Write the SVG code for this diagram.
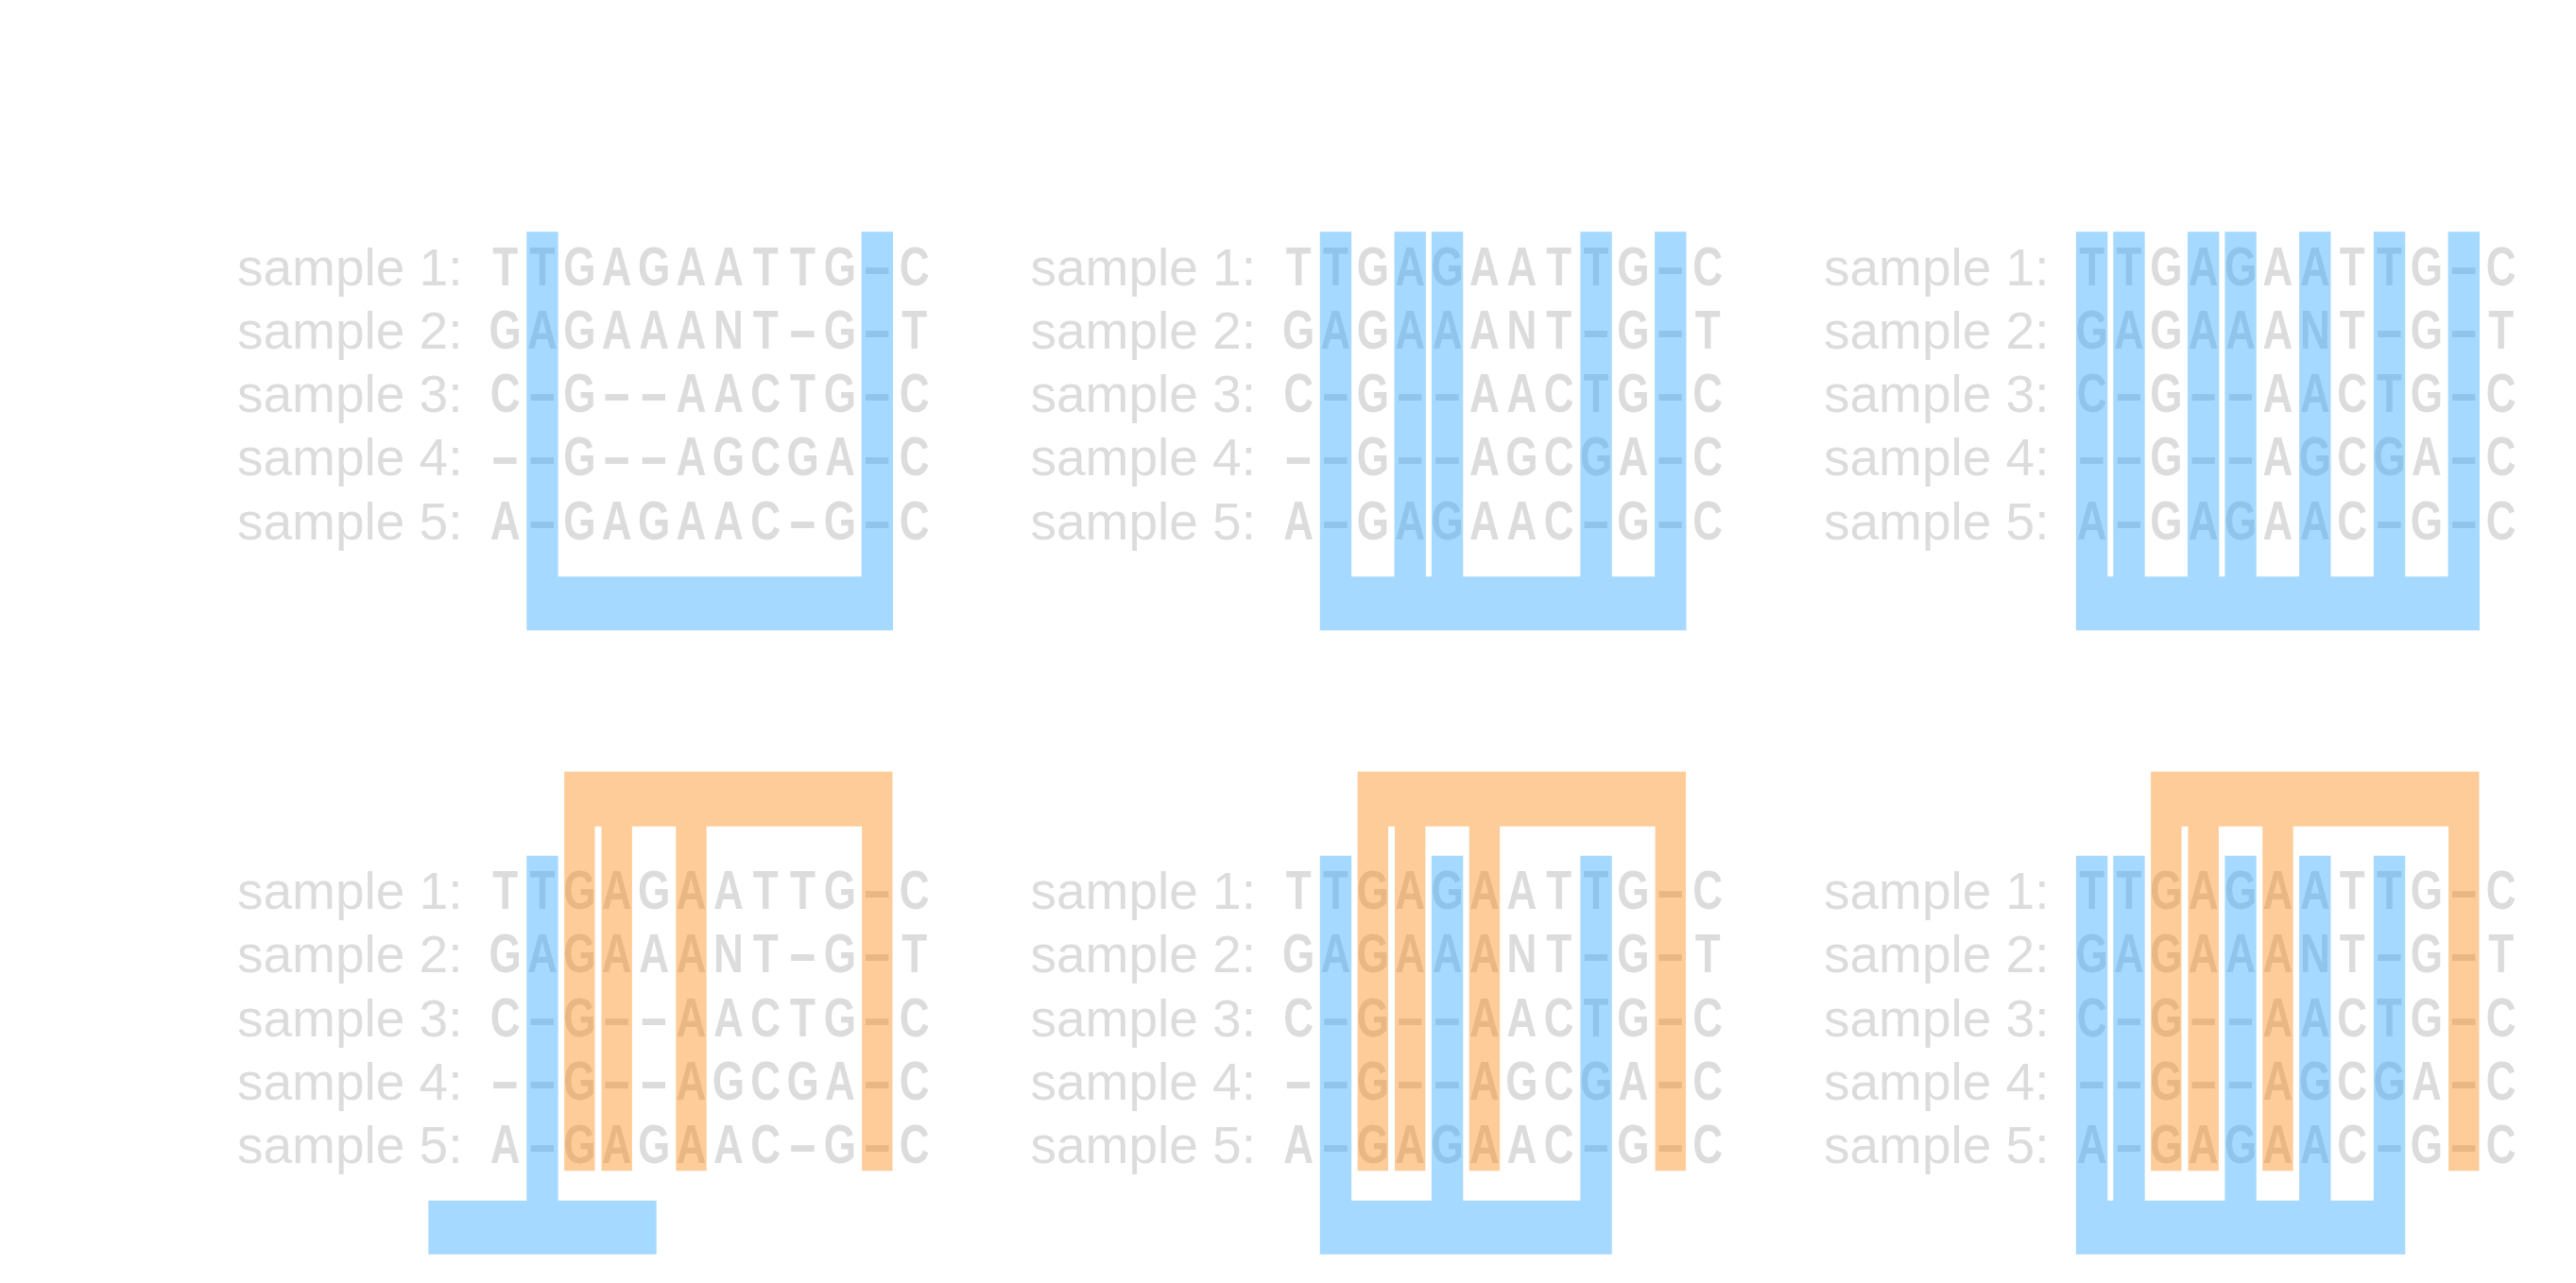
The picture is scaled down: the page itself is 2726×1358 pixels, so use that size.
<svg xmlns="http://www.w3.org/2000/svg" width="2726" height="1358" viewBox="0 0 2726 1358">
<style>
.l{font-family:"Liberation Sans",Arial,sans-serif;font-size:55px;fill:#dcdcdc}
.s{font-family:"Liberation Sans",Arial,sans-serif;font-size:58px;font-weight:bold;fill:#dcdcdc;text-anchor:middle}
.h{font-family:"Liberation Sans",Arial,sans-serif;font-size:58px;font-weight:bold;fill:#dcdcdc}
.b{fill:rgb(33,160,255);fill-opacity:0.4}
.o{fill:rgb(252,127,0);fill-opacity:0.4}
</style>
<rect width="2726" height="1358" fill="#ffffff"/>

<g id="panel-1">
<g id="p1-labels">
<text class="l" x="251" y="301.7">sample 1:</text>
<text class="l" x="251" y="368.95">sample 2:</text>
<text class="l" x="251" y="436.2">sample 3:</text>
<text class="l" x="251" y="503.45">sample 4:</text>
<text class="l" x="251" y="570.7">sample 5:</text>
</g>
<g id="p1-seq" transform="scale(0.76,1)">
<text class="s" x="703.42" y="301.7">T</text><text class="s" x="755.22" y="301.7">T</text><text class="s" x="807.03" y="301.7">G</text><text class="s" x="858.83" y="301.7">A</text><text class="s" x="910.63" y="301.7">G</text><text class="s" x="962.43" y="301.7">A</text><text class="s" x="1014.24" y="301.7">A</text><text class="s" x="1066.04" y="301.7">T</text><text class="s" x="1117.84" y="301.7">T</text><text class="s" x="1169.64" y="301.7">G</text><text class="h" x="1200.45" y="301.7" textLength="42" lengthAdjust="spacingAndGlyphs">-</text><text class="s" x="1273.25" y="301.7">C</text>
<text class="s" x="703.42" y="368.95">G</text><text class="s" x="755.22" y="368.95">A</text><text class="s" x="807.03" y="368.95">G</text><text class="s" x="858.83" y="368.95">A</text><text class="s" x="910.63" y="368.95">A</text><text class="s" x="962.43" y="368.95">A</text><text class="s" x="1014.24" y="368.95">N</text><text class="s" x="1066.04" y="368.95">T</text><text class="h" x="1096.84" y="368.95" textLength="42" lengthAdjust="spacingAndGlyphs">-</text><text class="s" x="1169.64" y="368.95">G</text><text class="h" x="1200.45" y="368.95" textLength="42" lengthAdjust="spacingAndGlyphs">-</text><text class="s" x="1273.25" y="368.95">T</text>
<text class="s" x="703.42" y="436.2">C</text><text class="h" x="734.22" y="436.2" textLength="42" lengthAdjust="spacingAndGlyphs">-</text><text class="s" x="807.03" y="436.2">G</text><text class="h" x="837.83" y="436.2" textLength="42" lengthAdjust="spacingAndGlyphs">-</text><text class="h" x="889.63" y="436.2" textLength="42" lengthAdjust="spacingAndGlyphs">-</text><text class="s" x="962.43" y="436.2">A</text><text class="s" x="1014.24" y="436.2">A</text><text class="s" x="1066.04" y="436.2">C</text><text class="s" x="1117.84" y="436.2">T</text><text class="s" x="1169.64" y="436.2">G</text><text class="h" x="1200.45" y="436.2" textLength="42" lengthAdjust="spacingAndGlyphs">-</text><text class="s" x="1273.25" y="436.2">C</text>
<text class="h" x="682.42" y="503.45" textLength="42" lengthAdjust="spacingAndGlyphs">-</text><text class="h" x="734.22" y="503.45" textLength="42" lengthAdjust="spacingAndGlyphs">-</text><text class="s" x="807.03" y="503.45">G</text><text class="h" x="837.83" y="503.45" textLength="42" lengthAdjust="spacingAndGlyphs">-</text><text class="h" x="889.63" y="503.45" textLength="42" lengthAdjust="spacingAndGlyphs">-</text><text class="s" x="962.43" y="503.45">A</text><text class="s" x="1014.24" y="503.45">G</text><text class="s" x="1066.04" y="503.45">C</text><text class="s" x="1117.84" y="503.45">G</text><text class="s" x="1169.64" y="503.45">A</text><text class="h" x="1200.45" y="503.45" textLength="42" lengthAdjust="spacingAndGlyphs">-</text><text class="s" x="1273.25" y="503.45">C</text>
<text class="s" x="703.42" y="570.7">A</text><text class="h" x="734.22" y="570.7" textLength="42" lengthAdjust="spacingAndGlyphs">-</text><text class="s" x="807.03" y="570.7">G</text><text class="s" x="858.83" y="570.7">A</text><text class="s" x="910.63" y="570.7">G</text><text class="s" x="962.43" y="570.7">A</text><text class="s" x="1014.24" y="570.7">A</text><text class="s" x="1066.04" y="570.7">C</text><text class="h" x="1096.84" y="570.7" textLength="42" lengthAdjust="spacingAndGlyphs">-</text><text class="s" x="1169.64" y="570.7">G</text><text class="h" x="1200.45" y="570.7" textLength="42" lengthAdjust="spacingAndGlyphs">-</text><text class="s" x="1273.25" y="570.7">C</text>
</g>
<path class="b" d="M557.27,245.3H590.67V611H557.27Z M911.6,245.3H945V611H911.6Z M557.27,610.3H945V667.3H557.27Z"/>
</g>

<g id="panel-2" transform="translate(839.5,0)">
<g id="p2-labels">
<text class="l" x="251" y="301.7">sample 1:</text>
<text class="l" x="251" y="368.95">sample 2:</text>
<text class="l" x="251" y="436.2">sample 3:</text>
<text class="l" x="251" y="503.45">sample 4:</text>
<text class="l" x="251" y="570.7">sample 5:</text>
</g>
<g id="p2-seq" transform="scale(0.76,1)">
<text class="s" x="703.42" y="301.7">T</text><text class="s" x="755.22" y="301.7">T</text><text class="s" x="807.03" y="301.7">G</text><text class="s" x="858.83" y="301.7">A</text><text class="s" x="910.63" y="301.7">G</text><text class="s" x="962.43" y="301.7">A</text><text class="s" x="1014.24" y="301.7">A</text><text class="s" x="1066.04" y="301.7">T</text><text class="s" x="1117.84" y="301.7">T</text><text class="s" x="1169.64" y="301.7">G</text><text class="h" x="1200.45" y="301.7" textLength="42" lengthAdjust="spacingAndGlyphs">-</text><text class="s" x="1273.25" y="301.7">C</text>
<text class="s" x="703.42" y="368.95">G</text><text class="s" x="755.22" y="368.95">A</text><text class="s" x="807.03" y="368.95">G</text><text class="s" x="858.83" y="368.95">A</text><text class="s" x="910.63" y="368.95">A</text><text class="s" x="962.43" y="368.95">A</text><text class="s" x="1014.24" y="368.95">N</text><text class="s" x="1066.04" y="368.95">T</text><text class="h" x="1096.84" y="368.95" textLength="42" lengthAdjust="spacingAndGlyphs">-</text><text class="s" x="1169.64" y="368.95">G</text><text class="h" x="1200.45" y="368.95" textLength="42" lengthAdjust="spacingAndGlyphs">-</text><text class="s" x="1273.25" y="368.95">T</text>
<text class="s" x="703.42" y="436.2">C</text><text class="h" x="734.22" y="436.2" textLength="42" lengthAdjust="spacingAndGlyphs">-</text><text class="s" x="807.03" y="436.2">G</text><text class="h" x="837.83" y="436.2" textLength="42" lengthAdjust="spacingAndGlyphs">-</text><text class="h" x="889.63" y="436.2" textLength="42" lengthAdjust="spacingAndGlyphs">-</text><text class="s" x="962.43" y="436.2">A</text><text class="s" x="1014.24" y="436.2">A</text><text class="s" x="1066.04" y="436.2">C</text><text class="s" x="1117.84" y="436.2">T</text><text class="s" x="1169.64" y="436.2">G</text><text class="h" x="1200.45" y="436.2" textLength="42" lengthAdjust="spacingAndGlyphs">-</text><text class="s" x="1273.25" y="436.2">C</text>
<text class="h" x="682.42" y="503.45" textLength="42" lengthAdjust="spacingAndGlyphs">-</text><text class="h" x="734.22" y="503.45" textLength="42" lengthAdjust="spacingAndGlyphs">-</text><text class="s" x="807.03" y="503.45">G</text><text class="h" x="837.83" y="503.45" textLength="42" lengthAdjust="spacingAndGlyphs">-</text><text class="h" x="889.63" y="503.45" textLength="42" lengthAdjust="spacingAndGlyphs">-</text><text class="s" x="962.43" y="503.45">A</text><text class="s" x="1014.24" y="503.45">G</text><text class="s" x="1066.04" y="503.45">C</text><text class="s" x="1117.84" y="503.45">G</text><text class="s" x="1169.64" y="503.45">A</text><text class="h" x="1200.45" y="503.45" textLength="42" lengthAdjust="spacingAndGlyphs">-</text><text class="s" x="1273.25" y="503.45">C</text>
<text class="s" x="703.42" y="570.7">A</text><text class="h" x="734.22" y="570.7" textLength="42" lengthAdjust="spacingAndGlyphs">-</text><text class="s" x="807.03" y="570.7">G</text><text class="s" x="858.83" y="570.7">A</text><text class="s" x="910.63" y="570.7">G</text><text class="s" x="962.43" y="570.7">A</text><text class="s" x="1014.24" y="570.7">A</text><text class="s" x="1066.04" y="570.7">C</text><text class="h" x="1096.84" y="570.7" textLength="42" lengthAdjust="spacingAndGlyphs">-</text><text class="s" x="1169.64" y="570.7">G</text><text class="h" x="1200.45" y="570.7" textLength="42" lengthAdjust="spacingAndGlyphs">-</text><text class="s" x="1273.25" y="570.7">C</text>
</g>
<path class="b" d="M557.27,245.3H590.67V611H557.27Z M636.01,245.3H669.41V611H636.01Z M675.38,245.3H708.78V611H675.38Z M832.86,245.3H866.26V611H832.86Z M911.6,245.3H945V611H911.6Z M557.27,610.3H945V667.3H557.27Z"/>
</g>

<g id="panel-3" transform="translate(1679,0)">
<g id="p3-labels">
<text class="l" x="251" y="301.7">sample 1:</text>
<text class="l" x="251" y="368.95">sample 2:</text>
<text class="l" x="251" y="436.2">sample 3:</text>
<text class="l" x="251" y="503.45">sample 4:</text>
<text class="l" x="251" y="570.7">sample 5:</text>
</g>
<g id="p3-seq" transform="scale(0.76,1)">
<text class="s" x="703.42" y="301.7">T</text><text class="s" x="755.22" y="301.7">T</text><text class="s" x="807.03" y="301.7">G</text><text class="s" x="858.83" y="301.7">A</text><text class="s" x="910.63" y="301.7">G</text><text class="s" x="962.43" y="301.7">A</text><text class="s" x="1014.24" y="301.7">A</text><text class="s" x="1066.04" y="301.7">T</text><text class="s" x="1117.84" y="301.7">T</text><text class="s" x="1169.64" y="301.7">G</text><text class="h" x="1200.45" y="301.7" textLength="42" lengthAdjust="spacingAndGlyphs">-</text><text class="s" x="1273.25" y="301.7">C</text>
<text class="s" x="703.42" y="368.95">G</text><text class="s" x="755.22" y="368.95">A</text><text class="s" x="807.03" y="368.95">G</text><text class="s" x="858.83" y="368.95">A</text><text class="s" x="910.63" y="368.95">A</text><text class="s" x="962.43" y="368.95">A</text><text class="s" x="1014.24" y="368.95">N</text><text class="s" x="1066.04" y="368.95">T</text><text class="h" x="1096.84" y="368.95" textLength="42" lengthAdjust="spacingAndGlyphs">-</text><text class="s" x="1169.64" y="368.95">G</text><text class="h" x="1200.45" y="368.95" textLength="42" lengthAdjust="spacingAndGlyphs">-</text><text class="s" x="1273.25" y="368.95">T</text>
<text class="s" x="703.42" y="436.2">C</text><text class="h" x="734.22" y="436.2" textLength="42" lengthAdjust="spacingAndGlyphs">-</text><text class="s" x="807.03" y="436.2">G</text><text class="h" x="837.83" y="436.2" textLength="42" lengthAdjust="spacingAndGlyphs">-</text><text class="h" x="889.63" y="436.2" textLength="42" lengthAdjust="spacingAndGlyphs">-</text><text class="s" x="962.43" y="436.2">A</text><text class="s" x="1014.24" y="436.2">A</text><text class="s" x="1066.04" y="436.2">C</text><text class="s" x="1117.84" y="436.2">T</text><text class="s" x="1169.64" y="436.2">G</text><text class="h" x="1200.45" y="436.2" textLength="42" lengthAdjust="spacingAndGlyphs">-</text><text class="s" x="1273.25" y="436.2">C</text>
<text class="h" x="682.42" y="503.45" textLength="42" lengthAdjust="spacingAndGlyphs">-</text><text class="h" x="734.22" y="503.45" textLength="42" lengthAdjust="spacingAndGlyphs">-</text><text class="s" x="807.03" y="503.45">G</text><text class="h" x="837.83" y="503.45" textLength="42" lengthAdjust="spacingAndGlyphs">-</text><text class="h" x="889.63" y="503.45" textLength="42" lengthAdjust="spacingAndGlyphs">-</text><text class="s" x="962.43" y="503.45">A</text><text class="s" x="1014.24" y="503.45">G</text><text class="s" x="1066.04" y="503.45">C</text><text class="s" x="1117.84" y="503.45">G</text><text class="s" x="1169.64" y="503.45">A</text><text class="h" x="1200.45" y="503.45" textLength="42" lengthAdjust="spacingAndGlyphs">-</text><text class="s" x="1273.25" y="503.45">C</text>
<text class="s" x="703.42" y="570.7">A</text><text class="h" x="734.22" y="570.7" textLength="42" lengthAdjust="spacingAndGlyphs">-</text><text class="s" x="807.03" y="570.7">G</text><text class="s" x="858.83" y="570.7">A</text><text class="s" x="910.63" y="570.7">G</text><text class="s" x="962.43" y="570.7">A</text><text class="s" x="1014.24" y="570.7">A</text><text class="s" x="1066.04" y="570.7">C</text><text class="h" x="1096.84" y="570.7" textLength="42" lengthAdjust="spacingAndGlyphs">-</text><text class="s" x="1169.64" y="570.7">G</text><text class="h" x="1200.45" y="570.7" textLength="42" lengthAdjust="spacingAndGlyphs">-</text><text class="s" x="1273.25" y="570.7">C</text>
</g>
<path class="b" d="M517.9,245.3H551.3V611H517.9Z M557.27,245.3H590.67V611H557.27Z M636.01,245.3H669.41V611H636.01Z M675.38,245.3H708.78V611H675.38Z M754.12,245.3H787.52V611H754.12Z M832.86,245.3H866.26V611H832.86Z M911.6,245.3H945V611H911.6Z M517.9,610.3H945V667.3H517.9Z"/>
</g>

<g id="panel-4" transform="translate(0,660.4)">
<g id="p4-labels">
<text class="l" x="251" y="301.7">sample 1:</text>
<text class="l" x="251" y="368.95">sample 2:</text>
<text class="l" x="251" y="436.2">sample 3:</text>
<text class="l" x="251" y="503.45">sample 4:</text>
<text class="l" x="251" y="570.7">sample 5:</text>
</g>
<g id="p4-seq" transform="scale(0.76,1)">
<text class="s" x="703.42" y="301.7">T</text><text class="s" x="755.22" y="301.7">T</text><text class="s" x="807.03" y="301.7">G</text><text class="s" x="858.83" y="301.7">A</text><text class="s" x="910.63" y="301.7">G</text><text class="s" x="962.43" y="301.7">A</text><text class="s" x="1014.24" y="301.7">A</text><text class="s" x="1066.04" y="301.7">T</text><text class="s" x="1117.84" y="301.7">T</text><text class="s" x="1169.64" y="301.7">G</text><text class="h" x="1200.45" y="301.7" textLength="42" lengthAdjust="spacingAndGlyphs">-</text><text class="s" x="1273.25" y="301.7">C</text>
<text class="s" x="703.42" y="368.95">G</text><text class="s" x="755.22" y="368.95">A</text><text class="s" x="807.03" y="368.95">G</text><text class="s" x="858.83" y="368.95">A</text><text class="s" x="910.63" y="368.95">A</text><text class="s" x="962.43" y="368.95">A</text><text class="s" x="1014.24" y="368.95">N</text><text class="s" x="1066.04" y="368.95">T</text><text class="h" x="1096.84" y="368.95" textLength="42" lengthAdjust="spacingAndGlyphs">-</text><text class="s" x="1169.64" y="368.95">G</text><text class="h" x="1200.45" y="368.95" textLength="42" lengthAdjust="spacingAndGlyphs">-</text><text class="s" x="1273.25" y="368.95">T</text>
<text class="s" x="703.42" y="436.2">C</text><text class="h" x="734.22" y="436.2" textLength="42" lengthAdjust="spacingAndGlyphs">-</text><text class="s" x="807.03" y="436.2">G</text><text class="h" x="837.83" y="436.2" textLength="42" lengthAdjust="spacingAndGlyphs">-</text><text class="h" x="889.63" y="436.2" textLength="42" lengthAdjust="spacingAndGlyphs">-</text><text class="s" x="962.43" y="436.2">A</text><text class="s" x="1014.24" y="436.2">A</text><text class="s" x="1066.04" y="436.2">C</text><text class="s" x="1117.84" y="436.2">T</text><text class="s" x="1169.64" y="436.2">G</text><text class="h" x="1200.45" y="436.2" textLength="42" lengthAdjust="spacingAndGlyphs">-</text><text class="s" x="1273.25" y="436.2">C</text>
<text class="h" x="682.42" y="503.45" textLength="42" lengthAdjust="spacingAndGlyphs">-</text><text class="h" x="734.22" y="503.45" textLength="42" lengthAdjust="spacingAndGlyphs">-</text><text class="s" x="807.03" y="503.45">G</text><text class="h" x="837.83" y="503.45" textLength="42" lengthAdjust="spacingAndGlyphs">-</text><text class="h" x="889.63" y="503.45" textLength="42" lengthAdjust="spacingAndGlyphs">-</text><text class="s" x="962.43" y="503.45">A</text><text class="s" x="1014.24" y="503.45">G</text><text class="s" x="1066.04" y="503.45">C</text><text class="s" x="1117.84" y="503.45">G</text><text class="s" x="1169.64" y="503.45">A</text><text class="h" x="1200.45" y="503.45" textLength="42" lengthAdjust="spacingAndGlyphs">-</text><text class="s" x="1273.25" y="503.45">C</text>
<text class="s" x="703.42" y="570.7">A</text><text class="h" x="734.22" y="570.7" textLength="42" lengthAdjust="spacingAndGlyphs">-</text><text class="s" x="807.03" y="570.7">G</text><text class="s" x="858.83" y="570.7">A</text><text class="s" x="910.63" y="570.7">G</text><text class="s" x="962.43" y="570.7">A</text><text class="s" x="1014.24" y="570.7">A</text><text class="s" x="1066.04" y="570.7">C</text><text class="h" x="1096.84" y="570.7" textLength="42" lengthAdjust="spacingAndGlyphs">-</text><text class="s" x="1169.64" y="570.7">G</text><text class="h" x="1200.45" y="570.7" textLength="42" lengthAdjust="spacingAndGlyphs">-</text><text class="s" x="1273.25" y="570.7">C</text>
</g>
<path class="o" d="M597.14,156.3H944.5V214.3H597.14Z M597.14,213.6H629.54V578.9H597.14Z M636.51,213.6H668.91V578.9H636.51Z M715.25,213.6H747.65V578.9H715.25Z M912.1,213.6H944.5V578.9H912.1Z"/>
<path class="b" d="M557.27,245.3H590.67V611H557.27Z M453.3,610.3H694.7V667.3H453.3Z"/>
</g>

<g id="panel-5" transform="translate(839.5,660.4)">
<g id="p5-labels">
<text class="l" x="251" y="301.7">sample 1:</text>
<text class="l" x="251" y="368.95">sample 2:</text>
<text class="l" x="251" y="436.2">sample 3:</text>
<text class="l" x="251" y="503.45">sample 4:</text>
<text class="l" x="251" y="570.7">sample 5:</text>
</g>
<g id="p5-seq" transform="scale(0.76,1)">
<text class="s" x="703.42" y="301.7">T</text><text class="s" x="755.22" y="301.7">T</text><text class="s" x="807.03" y="301.7">G</text><text class="s" x="858.83" y="301.7">A</text><text class="s" x="910.63" y="301.7">G</text><text class="s" x="962.43" y="301.7">A</text><text class="s" x="1014.24" y="301.7">A</text><text class="s" x="1066.04" y="301.7">T</text><text class="s" x="1117.84" y="301.7">T</text><text class="s" x="1169.64" y="301.7">G</text><text class="h" x="1200.45" y="301.7" textLength="42" lengthAdjust="spacingAndGlyphs">-</text><text class="s" x="1273.25" y="301.7">C</text>
<text class="s" x="703.42" y="368.95">G</text><text class="s" x="755.22" y="368.95">A</text><text class="s" x="807.03" y="368.95">G</text><text class="s" x="858.83" y="368.95">A</text><text class="s" x="910.63" y="368.95">A</text><text class="s" x="962.43" y="368.95">A</text><text class="s" x="1014.24" y="368.95">N</text><text class="s" x="1066.04" y="368.95">T</text><text class="h" x="1096.84" y="368.95" textLength="42" lengthAdjust="spacingAndGlyphs">-</text><text class="s" x="1169.64" y="368.95">G</text><text class="h" x="1200.45" y="368.95" textLength="42" lengthAdjust="spacingAndGlyphs">-</text><text class="s" x="1273.25" y="368.95">T</text>
<text class="s" x="703.42" y="436.2">C</text><text class="h" x="734.22" y="436.2" textLength="42" lengthAdjust="spacingAndGlyphs">-</text><text class="s" x="807.03" y="436.2">G</text><text class="h" x="837.83" y="436.2" textLength="42" lengthAdjust="spacingAndGlyphs">-</text><text class="h" x="889.63" y="436.2" textLength="42" lengthAdjust="spacingAndGlyphs">-</text><text class="s" x="962.43" y="436.2">A</text><text class="s" x="1014.24" y="436.2">A</text><text class="s" x="1066.04" y="436.2">C</text><text class="s" x="1117.84" y="436.2">T</text><text class="s" x="1169.64" y="436.2">G</text><text class="h" x="1200.45" y="436.2" textLength="42" lengthAdjust="spacingAndGlyphs">-</text><text class="s" x="1273.25" y="436.2">C</text>
<text class="h" x="682.42" y="503.45" textLength="42" lengthAdjust="spacingAndGlyphs">-</text><text class="h" x="734.22" y="503.45" textLength="42" lengthAdjust="spacingAndGlyphs">-</text><text class="s" x="807.03" y="503.45">G</text><text class="h" x="837.83" y="503.45" textLength="42" lengthAdjust="spacingAndGlyphs">-</text><text class="h" x="889.63" y="503.45" textLength="42" lengthAdjust="spacingAndGlyphs">-</text><text class="s" x="962.43" y="503.45">A</text><text class="s" x="1014.24" y="503.45">G</text><text class="s" x="1066.04" y="503.45">C</text><text class="s" x="1117.84" y="503.45">G</text><text class="s" x="1169.64" y="503.45">A</text><text class="h" x="1200.45" y="503.45" textLength="42" lengthAdjust="spacingAndGlyphs">-</text><text class="s" x="1273.25" y="503.45">C</text>
<text class="s" x="703.42" y="570.7">A</text><text class="h" x="734.22" y="570.7" textLength="42" lengthAdjust="spacingAndGlyphs">-</text><text class="s" x="807.03" y="570.7">G</text><text class="s" x="858.83" y="570.7">A</text><text class="s" x="910.63" y="570.7">G</text><text class="s" x="962.43" y="570.7">A</text><text class="s" x="1014.24" y="570.7">A</text><text class="s" x="1066.04" y="570.7">C</text><text class="h" x="1096.84" y="570.7" textLength="42" lengthAdjust="spacingAndGlyphs">-</text><text class="s" x="1169.64" y="570.7">G</text><text class="h" x="1200.45" y="570.7" textLength="42" lengthAdjust="spacingAndGlyphs">-</text><text class="s" x="1273.25" y="570.7">C</text>
</g>
<path class="o" d="M597.14,156.3H944.5V214.3H597.14Z M597.14,213.6H629.54V578.9H597.14Z M636.51,213.6H668.91V578.9H636.51Z M715.25,213.6H747.65V578.9H715.25Z M912.1,213.6H944.5V578.9H912.1Z"/>
<path class="b" d="M557.27,245.3H590.67V611H557.27Z M675.38,245.3H708.78V611H675.38Z M832.86,245.3H866.26V611H832.86Z M557.27,610.3H866.26V667.3H557.27Z"/>
</g>

<g id="panel-6" transform="translate(1679,660.4)">
<g id="p6-labels">
<text class="l" x="251" y="301.7">sample 1:</text>
<text class="l" x="251" y="368.95">sample 2:</text>
<text class="l" x="251" y="436.2">sample 3:</text>
<text class="l" x="251" y="503.45">sample 4:</text>
<text class="l" x="251" y="570.7">sample 5:</text>
</g>
<g id="p6-seq" transform="scale(0.76,1)">
<text class="s" x="703.42" y="301.7">T</text><text class="s" x="755.22" y="301.7">T</text><text class="s" x="807.03" y="301.7">G</text><text class="s" x="858.83" y="301.7">A</text><text class="s" x="910.63" y="301.7">G</text><text class="s" x="962.43" y="301.7">A</text><text class="s" x="1014.24" y="301.7">A</text><text class="s" x="1066.04" y="301.7">T</text><text class="s" x="1117.84" y="301.7">T</text><text class="s" x="1169.64" y="301.7">G</text><text class="h" x="1200.45" y="301.7" textLength="42" lengthAdjust="spacingAndGlyphs">-</text><text class="s" x="1273.25" y="301.7">C</text>
<text class="s" x="703.42" y="368.95">G</text><text class="s" x="755.22" y="368.95">A</text><text class="s" x="807.03" y="368.95">G</text><text class="s" x="858.83" y="368.95">A</text><text class="s" x="910.63" y="368.95">A</text><text class="s" x="962.43" y="368.95">A</text><text class="s" x="1014.24" y="368.95">N</text><text class="s" x="1066.04" y="368.95">T</text><text class="h" x="1096.84" y="368.95" textLength="42" lengthAdjust="spacingAndGlyphs">-</text><text class="s" x="1169.64" y="368.95">G</text><text class="h" x="1200.45" y="368.95" textLength="42" lengthAdjust="spacingAndGlyphs">-</text><text class="s" x="1273.25" y="368.95">T</text>
<text class="s" x="703.42" y="436.2">C</text><text class="h" x="734.22" y="436.2" textLength="42" lengthAdjust="spacingAndGlyphs">-</text><text class="s" x="807.03" y="436.2">G</text><text class="h" x="837.83" y="436.2" textLength="42" lengthAdjust="spacingAndGlyphs">-</text><text class="h" x="889.63" y="436.2" textLength="42" lengthAdjust="spacingAndGlyphs">-</text><text class="s" x="962.43" y="436.2">A</text><text class="s" x="1014.24" y="436.2">A</text><text class="s" x="1066.04" y="436.2">C</text><text class="s" x="1117.84" y="436.2">T</text><text class="s" x="1169.64" y="436.2">G</text><text class="h" x="1200.45" y="436.2" textLength="42" lengthAdjust="spacingAndGlyphs">-</text><text class="s" x="1273.25" y="436.2">C</text>
<text class="h" x="682.42" y="503.45" textLength="42" lengthAdjust="spacingAndGlyphs">-</text><text class="h" x="734.22" y="503.45" textLength="42" lengthAdjust="spacingAndGlyphs">-</text><text class="s" x="807.03" y="503.45">G</text><text class="h" x="837.83" y="503.45" textLength="42" lengthAdjust="spacingAndGlyphs">-</text><text class="h" x="889.63" y="503.45" textLength="42" lengthAdjust="spacingAndGlyphs">-</text><text class="s" x="962.43" y="503.45">A</text><text class="s" x="1014.24" y="503.45">G</text><text class="s" x="1066.04" y="503.45">C</text><text class="s" x="1117.84" y="503.45">G</text><text class="s" x="1169.64" y="503.45">A</text><text class="h" x="1200.45" y="503.45" textLength="42" lengthAdjust="spacingAndGlyphs">-</text><text class="s" x="1273.25" y="503.45">C</text>
<text class="s" x="703.42" y="570.7">A</text><text class="h" x="734.22" y="570.7" textLength="42" lengthAdjust="spacingAndGlyphs">-</text><text class="s" x="807.03" y="570.7">G</text><text class="s" x="858.83" y="570.7">A</text><text class="s" x="910.63" y="570.7">G</text><text class="s" x="962.43" y="570.7">A</text><text class="s" x="1014.24" y="570.7">A</text><text class="s" x="1066.04" y="570.7">C</text><text class="h" x="1096.84" y="570.7" textLength="42" lengthAdjust="spacingAndGlyphs">-</text><text class="s" x="1169.64" y="570.7">G</text><text class="h" x="1200.45" y="570.7" textLength="42" lengthAdjust="spacingAndGlyphs">-</text><text class="s" x="1273.25" y="570.7">C</text>
</g>
<path class="o" d="M597.14,156.3H944.5V214.3H597.14Z M597.14,213.6H629.54V578.9H597.14Z M636.51,213.6H668.91V578.9H636.51Z M715.25,213.6H747.65V578.9H715.25Z M912.1,213.6H944.5V578.9H912.1Z"/>
<path class="b" d="M517.9,245.3H551.3V611H517.9Z M557.27,245.3H590.67V611H557.27Z M675.38,245.3H708.78V611H675.38Z M754.12,245.3H787.52V611H754.12Z M832.86,245.3H866.26V611H832.86Z M517.9,610.3H866.26V667.3H517.9Z"/>
</g>
</svg>
